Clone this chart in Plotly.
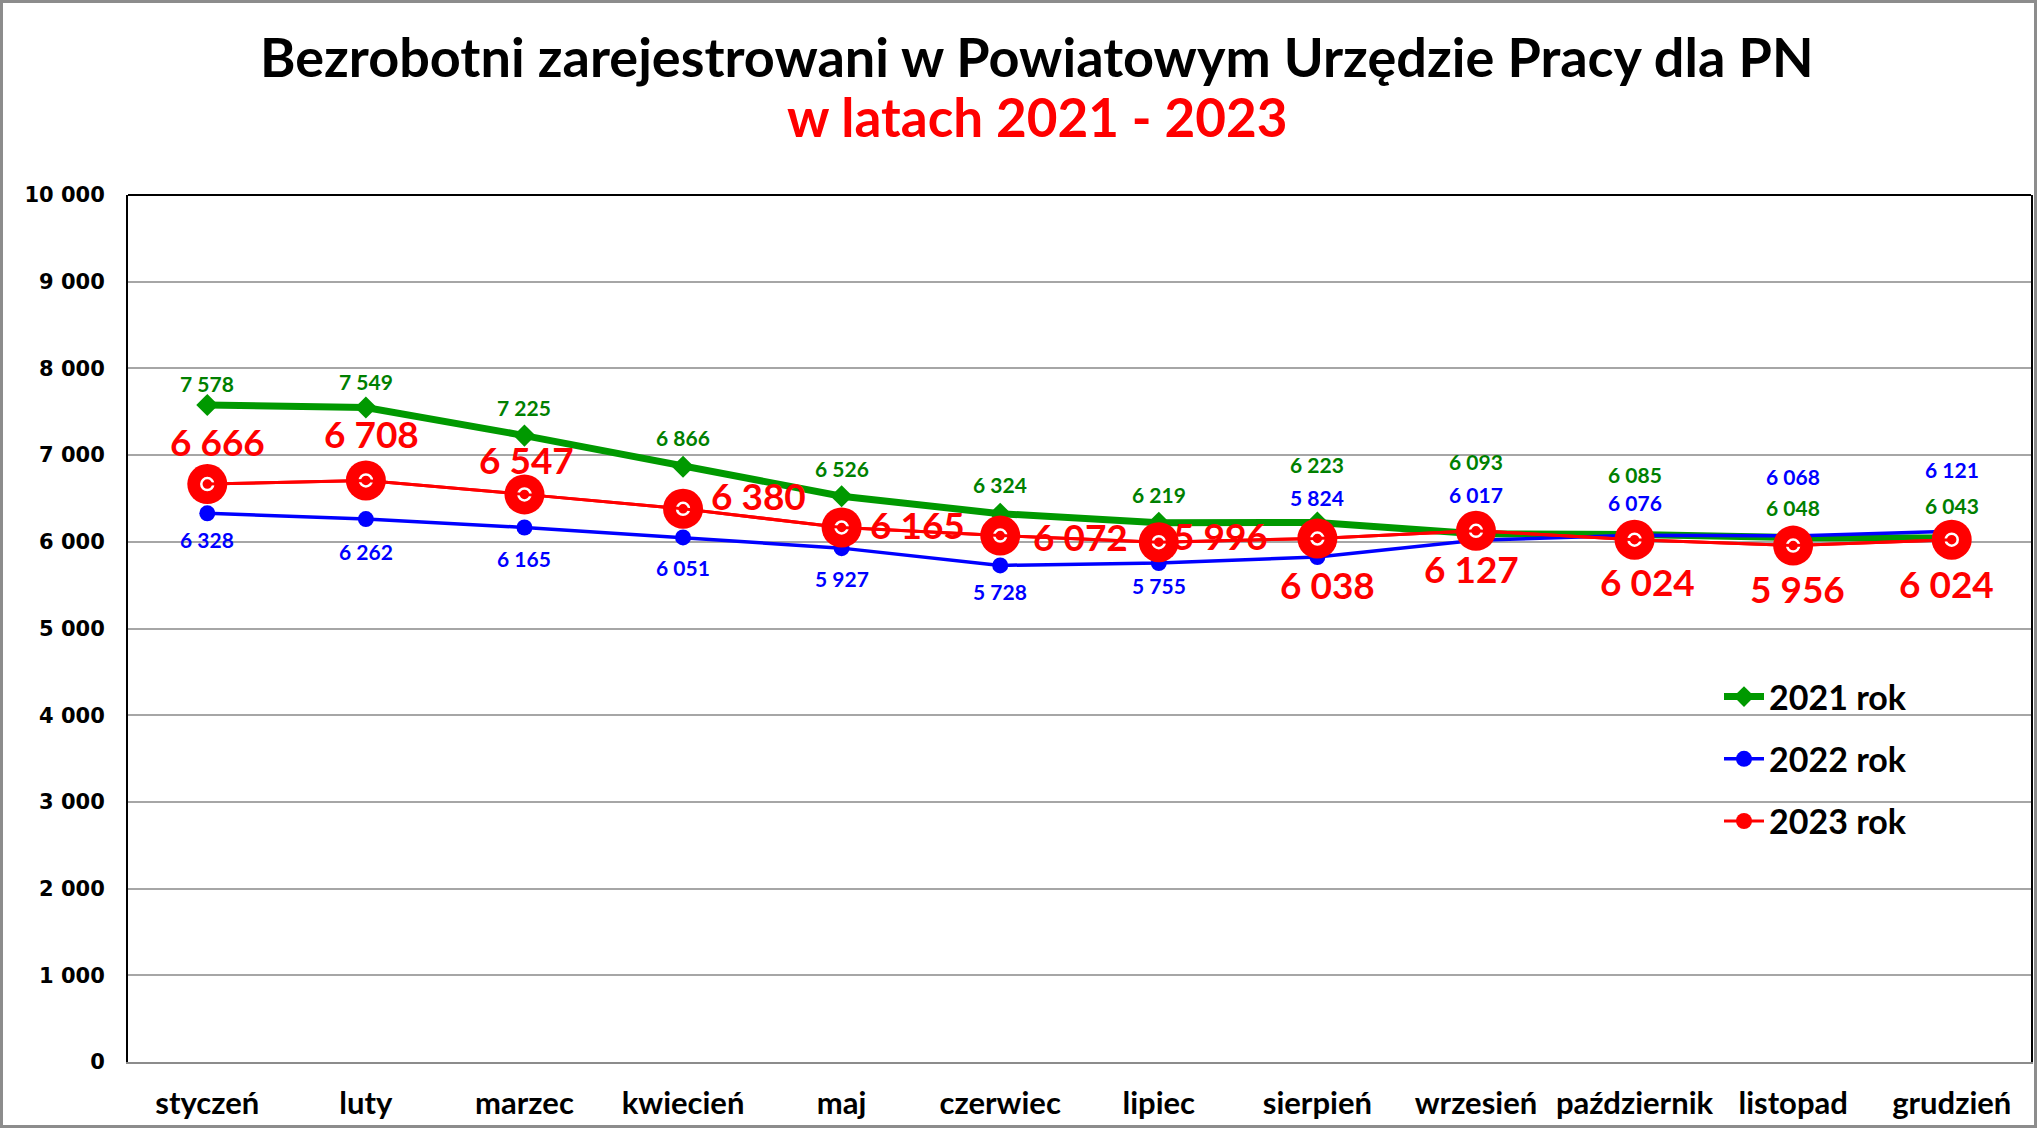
import plotly.graph_objects as go

months = ["styczeń", "luty", "marzec", "kwiecień", "maj", "czerwiec", "lipiec",
          "sierpień", "wrzesień", "październik", "listopad", "grudzień"]
v2021 = [7578, 7549, 7225, 6866, 6526, 6324, 6219, 6223, 6093, 6085, 6048, 6043]
v2022 = [6328, 6262, 6165, 6051, 5927, 5728, 5755, 5824, 6017, 6076, 6068, 6121]
v2023 = [6666, 6708, 6547, 6380, 6165, 6072, 5996, 6038, 6127, 6024, 5956, 6024]
names = ["2021 rok", "2022 rok", "2023 rok"]

# label offsets (pixels)
g_dy = [21, 26, 28, 29, 28, 29, 28, 58, 72, 60, 30, 33]
b_dy = [-26, -32, -31, -30, -30, -26, -22, 60, 46, 33, 59, 62]
r_dx = [10, 6, 2, 75, 76, 80, 62, 10, -4, 13, 4, -5]
r_dy = [43, 47, 35, 13, 3, -1, 7, -46, -38, -42, -43, -44]

FONT = "Lato"
GREEN = "#009900"
GREEN_T = "#008000"
BLUE = "#0000FF"
RED = "#FF0000"

W, H = 2037, 1128
ML, MR, MT, MB = 128, 6, 195, 66
PW, PH = W - ML - MR, H - MT - MB
TITLE_CX = 1037


def fmt(v):
    return f"{v:,}".replace(",", " ")


fig = go.Figure()
fig.add_trace(go.Scatter(x=months, y=v2021, name=names[0], mode="lines+markers",
                         line=dict(color=GREEN, width=7),
                         marker=dict(symbol="diamond", size=17, color=GREEN),
                         legendgroup="a"))
fig.add_trace(go.Scatter(x=months, y=v2022, name=names[1], mode="lines+markers",
                         line=dict(color=BLUE, width=3.5),
                         marker=dict(symbol="circle", size=16, color=BLUE),
                         legendgroup="b"))
fig.add_trace(go.Scatter(x=months, y=v2023, name=names[2], mode="lines+markers",
                         line=dict(color=RED, width=3),
                         marker=dict(symbol="circle", size=40, color=RED),
                         legendgroup="c"))
fig.add_trace(go.Scatter(x=months, y=v2023, mode="markers", showlegend=False,
                         hoverinfo="skip",
                         marker=dict(symbol="circle-open", size=12, color="white",
                                     line=dict(color="white", width=2.5))))
fig.add_trace(go.Scatter(x=months, y=v2023, mode="lines", showlegend=False,
                         hoverinfo="skip", line=dict(color=RED, width=3)))

ann = []
for i, m in enumerate(months):
    ann.append(dict(x=m, y=v2021[i], text=fmt(v2021[i]), showarrow=False,
                    yshift=g_dy[i], font=dict(family=FONT, size=21, color=GREEN_T, weight="bold")))
    ann.append(dict(x=m, y=v2022[i], text=fmt(v2022[i]), showarrow=False,
                    yshift=b_dy[i], font=dict(family=FONT, size=21, color=BLUE, weight="bold")))
    ann.append(dict(x=m, y=v2023[i], text=fmt(v2023[i]), showarrow=False,
                    xshift=r_dx[i], yshift=r_dy[i],
                    font=dict(family=FONT, size=37, color=RED, weight="bold")))

ann.append(dict(xref="paper", yref="paper", x=(TITLE_CX - ML) / PW,
                y=1 + (MT - 56) / PH, text="Bezrobotni zarejestrowani w Powiatowym Urzędzie Pracy dla PN",
                showarrow=False, xanchor="center", yanchor="middle",
                font=dict(family=FONT, size=54, color="black", weight="bold")))
ann.append(dict(xref="paper", yref="paper", x=(TITLE_CX - ML) / PW,
                y=1 + (MT - 116) / PH, text="w latach 2021 - 2023",
                showarrow=False, xanchor="center", yanchor="middle",
                font=dict(family=FONT, size=53, color=RED, weight="bold")))

shapes = [
    dict(type="line", xref="paper", yref="paper", x0=0, x1=1, y0=1, y1=1,
         line=dict(color="black", width=2)),
    dict(type="rect", xref="paper", yref="paper",
         x0=(1.5 - ML) / PW, x1=(W - 1.5 - ML) / PW,
         y0=-(MB - 1.5) / PH, y1=1 + (MT - 1.5) / PH,
         line=dict(color="#8C8C8C", width=3)),
]

fig.update_layout(
    width=W, height=H,
    margin=dict(l=ML, r=MR, t=MT, b=MB, pad=0, autoexpand=False),
    paper_bgcolor="white", plot_bgcolor="white",
    separators=", ",
    annotations=ann, shapes=shapes,
    showlegend=True,
    legend=dict(x=(1719 - ML) / PW, y=(1062 - 668) / PH, xanchor="left", yanchor="top",
                font=dict(family=FONT, size=34, color="black", weight="bold"),
                traceorder="grouped", tracegroupgap=15, bgcolor="rgba(0,0,0,0)",
                itemwidth=40),
    xaxis=dict(type="category", range=[-0.5, 11.5], showgrid=False, automargin=False,
               showline=True, linecolor="#8C8C8C", linewidth=2,
               ticks="", ticklabelstandoff=13,
               tickfont=dict(family=FONT, size=31, color="black", weight="bold")),
    yaxis=dict(range=[0, 10000], dtick=1000, tickformat=",", automargin=False,
               showgrid=True, gridcolor="#A6A6A6", gridwidth=2,
               zeroline=False, showline=True, linecolor="black", linewidth=2,
               mirror=True, ticks="", ticklabelstandoff=17,
               tickfont=dict(family="DejaVu Sans", size=21, color="black", weight="bold")),
)

fig.write_html("out.html")
